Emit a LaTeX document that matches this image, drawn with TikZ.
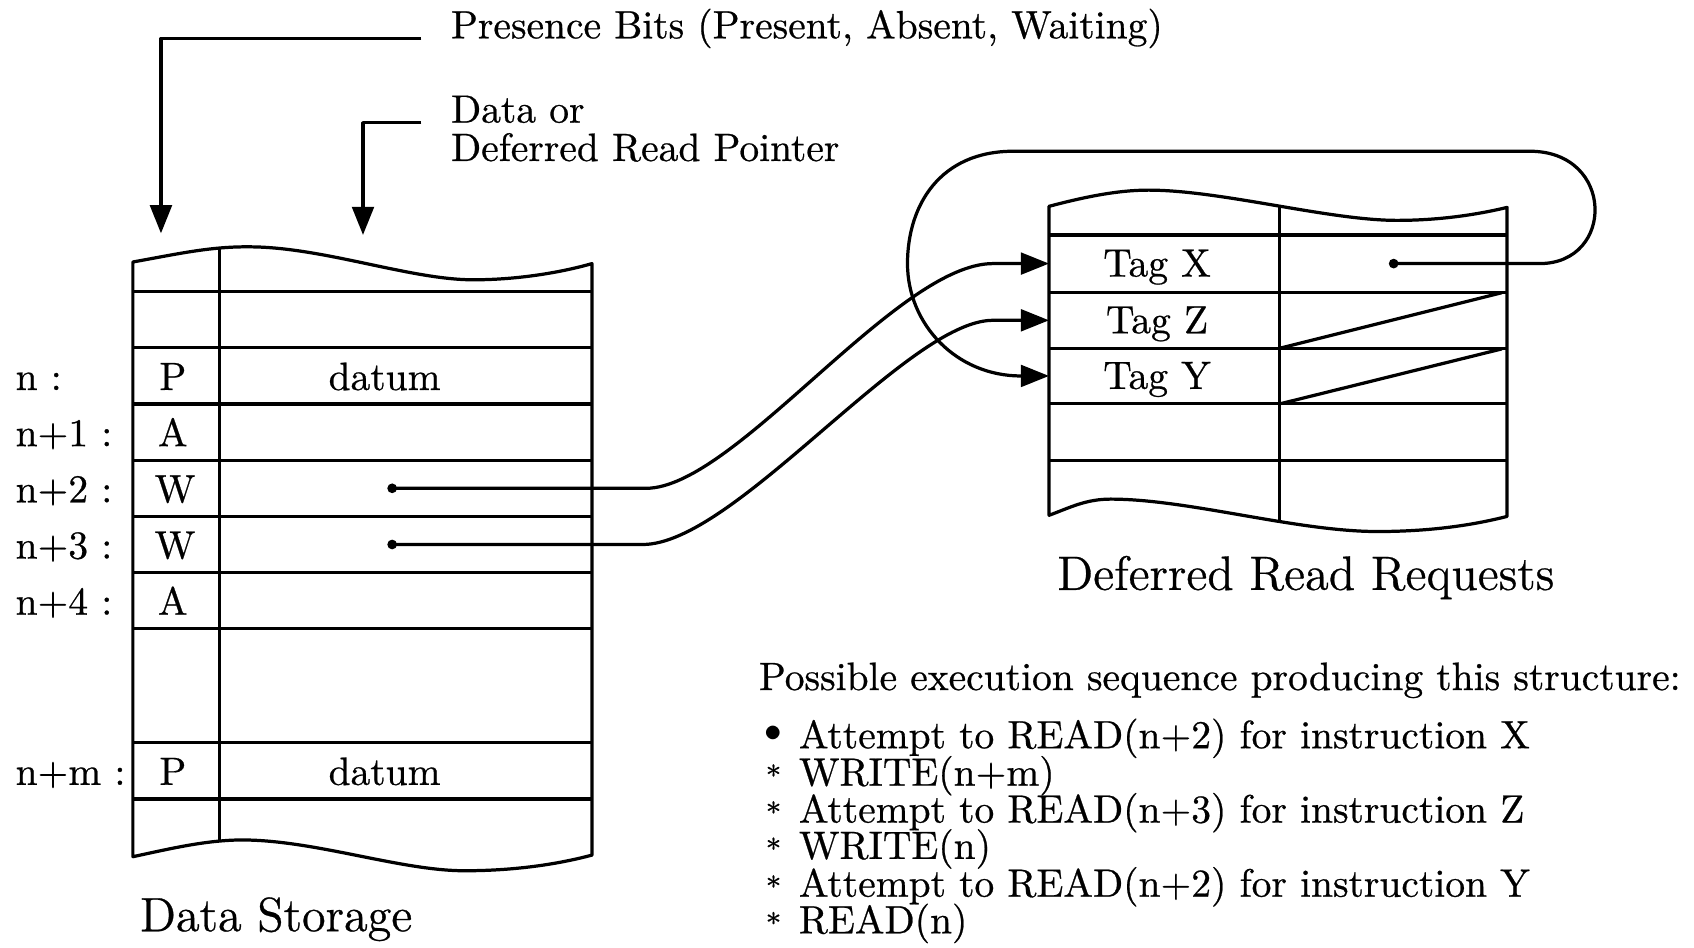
\documentclass[tikz,border=0pt]{standalone}
\usepackage{fontspec}
\setmainfont{Latin Modern Roman}[FakeBold=0.6]
\usetikzlibrary{arrows.meta}
\newcommand\lefttab{(123,242.5) .. controls (165,235) and (195,228) .. (232,228.5) .. controls (300,229) and (380,259) .. (438,259) .. controls (480,259) and (520,252) .. (548,244) -- (548,791.5) .. controls (520,799) and (480,806) .. (430,806) .. controls (370,806) and (290,777) .. (222,777.5) .. controls (190,778) and (160,785) .. (123,793) -- cycle}
\newcommand\righttab{(971,191) .. controls (1005,182) and (1035,176) .. (1063,176) .. controls (1130,176) and (1230,204) .. (1293,204) .. controls (1335,204) and (1370,198) .. (1395,192) -- (1395,478) .. controls (1360,487) and (1320,492) .. (1275,492) .. controls (1200,492) and (1100,462) .. (1028,462) .. controls (1005,462) and (990,470) .. (971,477) -- cycle}
\begin{document}
\begin{tikzpicture}[x=0.01cm,y=-0.01cm,line width=0.85pt,line join=round,
  txt/.style={inner sep=0pt,font=\fontsize{10.4}{9.8}\selectfont},
  ttl/.style={inner sep=0pt,font=\fontsize{12.7}{14}\selectfont},
  star/.style={inner sep=0pt,font=\fontsize{7.5}{7.5}\selectfont},
  dotnode/.style={circle,fill=black,inner sep=0pt,minimum size=0.09cm},
  ptr/.style={-{Triangle[length=7.4pt,width=5.7pt]}}]
\useasboundingbox (0,0) rectangle (1568,877);

% ---- left table: Data Storage
\draw \lefttab;
\begin{scope}
  \clip \lefttab;
  \draw (203,200) -- (203,830);
\end{scope}
\foreach \y in {270,322,374,426,478,530,582,687.5,739.5}
  \draw (123,\y) -- (548,\y);

% row labels
\node[txt,anchor=base west] (ln)  at (13,361)   {n :};
\node[txt,anchor=base west] (ln1) at (13,413)   {n+1 :};
\node[txt,anchor=base west] (ln2) at (13,465)   {n+2 :};
\node[txt,anchor=base west] (ln3) at (13,517)   {n+3 :};
\node[txt,anchor=base west] (ln4) at (13,569)   {n+4 :};
\node[txt,anchor=base west] (lnm) at (13,726.5) {n+m :};

% presence bits
\node[txt,anchor=base] (b0) at (160,361)   {P};
\node[txt,anchor=base] (b1) at (160,413)   {A};
\node[txt,anchor=base] (b2) at (162,465)   {W};
\node[txt,anchor=base] (b3) at (162,517)   {W};
\node[txt,anchor=base] (b4) at (160,569)   {A};
\node[txt,anchor=base] (bm) at (160,726.5) {P};

\node[txt,anchor=base] (v0) at (356,361)   {datum};
\node[txt,anchor=base] (vm) at (356,726.5) {datum};

\node[dotnode] (d2) at (363,452) {};
\node[dotnode] (d3) at (363,504) {};

% ---- right table: Deferred Read Requests
\draw \righttab;
\begin{scope}
  \clip \righttab;
  \draw (1184,150) -- (1184,520);
\end{scope}
\foreach \y in {217.5,270.5,322.5,373.5,426}
  \draw (971,\y) -- (1395,\y);
\draw (1390,271) -- (1186,322);
\draw (1390,323) -- (1186,373.5);

\node[txt,anchor=base] (tagx) at (1071,256)   {Tag X};
\node[txt,anchor=base] (tagz) at (1071,308.5) {Tag Z};
\node[txt,anchor=base] (tagy) at (1071,360)   {Tag Y};
\node[dotnode] (dx) at (1290,244) {};

\coordinate (tX) at (971,244);
\coordinate (tZ) at (971,296.5);
\coordinate (tY) at (971,348);

% ---- pointers
\draw[ptr] (d2.center) -- (598,452) .. controls (680,452) and (830,244) .. (919,244) -- (tX);
\draw[ptr] (d3.center) -- (595,504) .. controls (680,504) and (840,296.5) .. (919,296.5) -- (tZ);
\draw[ptr] (dx.center) -- (1425,244) .. controls (1495,244) and (1495,140) .. (1416,140)
  -- (938,140) .. controls (870,140) and (840,190) .. (840,244)
  .. controls (840,300) and (885,348) .. (945,348) -- (tY);

% ---- top labels
\coordinate (pbtip) at (149,216);
\coordinate (dptip) at (336,217.5);
\node[txt,anchor=base west] (presence) at (416,35.5) {Presence Bits (Present, Absent, Waiting)};
\node[txt,anchor=base west] (dataor) at (416,113.5) {Data or};
\node[txt,anchor=base west] (drp) at (416,149) {Deferred Read Pointer};
\draw[ptr] ([xshift=-0.26cm]presence.base west) -| (pbtip);
\draw[ptr] ([xshift=-0.26cm]dataor.base west) -| (dptip);

% ---- captions
\node[ttl,anchor=base west] (ds)  at (128,862) {Data Storage};
\node[ttl,anchor=base west] (drr) at (977,546) {Deferred Read Requests};

% ---- execution sequence
\node[txt,anchor=base west] (pos) at (701,638.7) {Possible execution sequence producing this structure:};
\node[txt,anchor=base] (k1) at (716,692.6) {\raisebox{1.8pt}{\fontsize{9}{9}\selectfont$\bullet$}};
\node[star,anchor=base] (k2) at (716,727.2) {*};
\node[star,anchor=base] (k3) at (716,761.4) {*};
\node[star,anchor=base] (k4) at (716,795)   {*};
\node[star,anchor=base] (k5) at (716,830)   {*};
\node[star,anchor=base] (k6) at (716,863.9) {*};
\node[txt,anchor=base west] (s1) at (738,692.6) {Attempt to READ(n+2) for instruction X};
\node[txt,anchor=base west] (s2) at (738,727.2) {WRITE(n+m)};
\node[txt,anchor=base west] (s3) at (738,761.4) {Attempt to READ(n+3) for instruction Z};
\node[txt,anchor=base west] (s4) at (738,795)   {WRITE(n)};
\node[txt,anchor=base west] (s5) at (738,830)   {Attempt to READ(n+2) for instruction Y};
\node[txt,anchor=base west] (s6) at (738,863.9) {READ(n)};
\end{tikzpicture}
\end{document}
